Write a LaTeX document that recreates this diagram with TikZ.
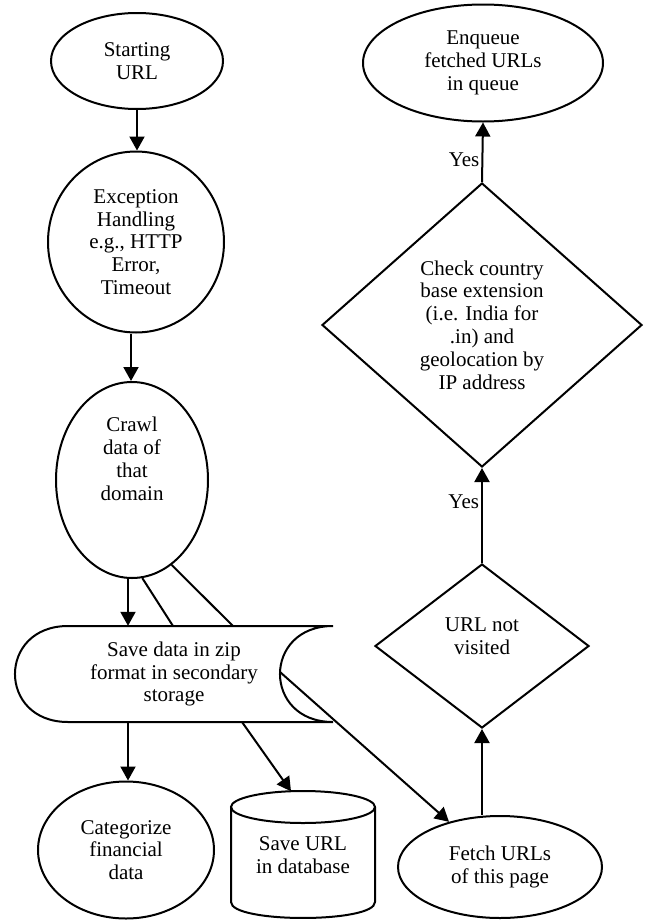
\documentclass[tikz,border=0pt]{standalone}
\usepackage{fontspec}
\setmainfont{Liberation Serif}
\usetikzlibrary{shapes.geometric,arrows.meta}
\begin{document}
\begin{tikzpicture}[x=1pt,y=-1pt,
  every node/.style={font=\fontsize{21}{22.8}\selectfont, align=center, inner sep=0pt},
  oval/.style={ellipse, draw, line width=2pt},
  decision/.style={diamond, draw, line width=2pt},
  frame/.style={rectangle},
  link/.style={line width=2pt},
  arr/.style={link, -{Triangle[length=14pt,width=15pt]}},
]
\useasboundingbox (0,0) rectangle (646,921);

% left column
\node[oval, minimum width=172pt, minimum height=96pt] (start) at (137,61) {Starting\\URL};
\node[oval, minimum width=176pt, minimum height=181pt] (exc) at (136,242) {Exception\\Handling\\e.g., HTTP\\Error,\\Timeout};
\node[oval, minimum width=152pt, minimum height=196pt] (crawl) at (132,480) {};
\node (crawltxt) at (132,459) {Crawl\\data of\\that\\domain};

% stored-data shape
\node[frame, minimum width=318pt, minimum height=96pt] (save) at (174,674) {Save data in zip\\format in secondary\\storage};
\draw[link] (68,626) -- (333,626)
  .. controls (262.3,626) and (262.3,722) .. (333,722) -- (68,722)
  .. controls (-2.7,722) and (-2.7,626) .. (68,626) -- cycle;

% bottom row
\node[oval, minimum width=176pt, minimum height=137pt] (cat) at (126,850) {Categorize\\financial\\data};
\node[frame, minimum width=144pt, minimum height=127pt] (db) at (303,855) {Save URL\\in database};
\draw[link] (231,807) -- (231,902) .. controls (231,923.3) and (375,923.3) .. (375,902) -- (375,807);
\draw[link] (303,807) ellipse [x radius=72, y radius=16];
\node[oval, minimum width=204pt, minimum height=102pt] (fetch) at (500,867) {Fetch URLs\\of this page};

% right column
\node[decision, minimum width=214pt, minimum height=164pt] (url) at (482,646) {};
\node (urltxt) at (482,636) {URL not\\visited};
\node[decision, minimum width=320pt, minimum height=284pt] (chk) at (482,325) {Check country\\base extension\\(i.e. India for\\.in) and\\geolocation by\\IP address};
\node[oval, minimum width=240pt, minimum height=117pt] (enq) at (483,63) {Enqueue\\fetched URLs\\in queue};

% connector end points on the stored-data shape
\coordinate (c1) at (173,626);
\coordinate (c2) at (233,626);
\coordinate (c3) at (242,722);
\coordinate (c4) at (280,672);

% connectors
\draw[arr] (start.south) -- (start.south |- exc.north);
\draw[arr] ([xshift=-1pt]crawl.north |- exc.south) -- ([xshift=-1pt]crawl.north);
\draw[arr] ([xshift=-4pt]crawl.south) -- ([xshift=-4pt]crawl.south |- save.north);
\draw[link] (crawl.-84) -- (c1);
\draw[link] (crawl.-65) -- (c2);
\draw[arr] ([xshift=2pt]cat.north |- save.south) -- ([xshift=2pt]cat.north);
\draw[arr] (c3) -- ([xshift=-12pt]db.north);
\draw[arr] (c4) -- (fetch);
\draw[arr] (url.south |- fetch.north) -- (url.south);
\draw[arr] (url.north) -- (chk.south) node[pos=0.64, left=2pt] (yes1) {Yes};
\draw[arr] (chk.north) -- (enq.south) node[pos=0.37, left=2pt] (yes2) {Yes};
\end{tikzpicture}
\end{document}
